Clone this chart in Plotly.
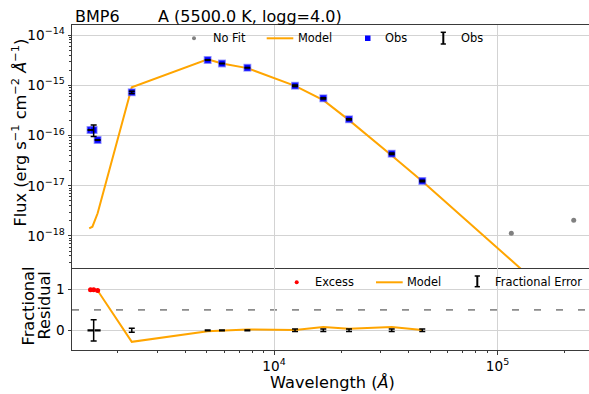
import plotly.graph_objects as go

# ---------------- data ----------------
obs_wl = [1510, 1560, 1625, 2310, 5050, 5850, 7600, 12420, 16620, 21660, 33630, 46070]
obs_flux = [1.285e-16, 1.285e-16, 8.13e-17, 7.24e-16, 3.18e-15, 2.71e-15, 2.23e-15,
            9.79e-16, 5.50e-16, 2.10e-16, 4.34e-17, 1.245e-17]
obs_frac_err = [0.01, 0.26, 0.01, 0.05, 0.01, 0.01, 0.01, 0.03, 0.03, 0.03, 0.03, 0.03]

nofit_wl = [115300, 219300]
nofit_flux = [1.13e-18, 2.05e-18]

model_wl = [1490, 1540, 1625, 2310, 5050, 5850, 7600, 12420, 16620, 21660, 33630, 46070,
            115300, 219300]
model_flux = [1.42e-18, 1.53e-18, 2.83e-18, 9.10e-16, 3.28e-15, 2.71e-15, 2.19e-15,
              9.69e-16, 5.06e-16, 2.02e-16, 3.99e-17, 1.23e-17, 3.28e-19, 2.56e-20]

resid = [0.99, 0.99, 0.97, -0.28, -0.02, 0.0, 0.02, 0.01, 0.08, 0.04, 0.08, 0.01]
excess_wl = [1510, 1560, 1625]
excess_resid = [0.99, 0.99, 0.97]

threshold = 0.5

x_major = [1e4, 1e5]
x_major_text = ["10<sup>4</sup>", "10<sup>5</sup>"]
y_major = [1e-18, 1e-17, 1e-16, 1e-15, 1e-14]
y_major_text = ["10<sup>\u221218</sup>", "10<sup>\u221217</sup>", "10<sup>\u221216</sup>",
                "10<sup>\u221215</sup>", "10<sup>\u221214</sup>"]
res_ticks = [0, 1]

title_left = "BMP6"
title_right = "A (5500.0 K, logg=4.0)"

# ---------------- styling ----------------
FONT = "DejaVu Sans"
ORANGE = "#ffa500"
GRID = "#d3d3d3"
SPINE = "#3a3a3a"
W, H = 589, 394
L, R, T, B = 72, 0, 25, 44
PW, PH = W - L - R, H - T - B
split = (350 - 268) / PH
LABEL = 16.2


def px(x):
    return (x - L) / PW


def py(y):
    return (H - B - y) / PH


x_minor = [m * 10 ** e for e in range(3, 6) for m in range(2, 10) if m * 10 ** e < 2.6e5]
y_minor = [m * 10.0 ** e for e in range(-19, -13) for m in range(2, 10)]

fig = go.Figure()

# top panel
fig.add_trace(go.Scatter(x=nofit_wl, y=nofit_flux, mode="markers",
                         marker=dict(color="#808080", size=5), xaxis="x", yaxis="y"))
fig.add_trace(go.Scatter(x=model_wl, y=model_flux, mode="lines",
                         line=dict(color=ORANGE, width=2), xaxis="x", yaxis="y"))
fig.add_trace(go.Scatter(x=obs_wl, y=obs_flux, mode="markers",
                         marker=dict(color="#0000ff", size=6.5, symbol="square",
                                     line=dict(color="rgba(90,90,255,0.55)", width=1.5)),
                         xaxis="x", yaxis="y"))
fig.add_trace(go.Scatter(x=obs_wl, y=obs_flux, mode="markers",
                         marker=dict(color="rgba(0,0,0,0)", size=1),
                         error_y=dict(type="data", array=[f * e for f, e in zip(obs_flux, obs_frac_err)],
                                      color="black", thickness=1.5, width=3),
                         xaxis="x", yaxis="y"))

# bottom panel
fig.add_trace(go.Scatter(x=obs_wl, y=resid, mode="lines",
                         line=dict(color=ORANGE, width=2), xaxis="x2", yaxis="y2"))
fig.add_trace(go.Scatter(x=obs_wl, y=[0] * len(obs_wl), mode="markers",
                         marker=dict(color="rgba(0,0,0,0)", size=1),
                         error_y=dict(type="data", array=obs_frac_err,
                                      color="black", thickness=1.5, width=3),
                         xaxis="x2", yaxis="y2"))
fig.add_trace(go.Scatter(x=excess_wl, y=excess_resid, mode="markers",
                         marker=dict(color="red", size=5), xaxis="x2", yaxis="y2"))

fig.add_shape(type="line", xref="x2 domain", x0=0, x1=1, yref="y2", y0=threshold, y1=threshold,
              line=dict(color="#8c8c8c", width=1.8, dash="7px,15px"), layer="below")

axis_common = dict(showline=True, linecolor=SPINE, linewidth=1, gridcolor=GRID, gridwidth=1,
                   tickfont=dict(family=FONT, size=13.6, color="black"), ticklen=3.5,
                   tickcolor=SPINE, zeroline=False)
xr = [3.0962, 5.4094]
fig.update_layout(
    width=W, height=H, margin=dict(l=L, r=R, t=T, b=B),
    plot_bgcolor="white", paper_bgcolor="white", showlegend=False,
    font=dict(family=FONT, size=13.6, color="black"),
    xaxis=dict(type="log", range=xr, domain=[0, 1], anchor="y", matches="x2",
               tickmode="array", tickvals=x_major, showticklabels=False, ticks="",
               mirror=True, showgrid=True, **axis_common),
    xaxis2=dict(type="log", range=xr, domain=[0, 1], anchor="y2",
                tickmode="array", tickvals=x_major, ticktext=x_major_text, ticks="outside",
                minor=dict(tickmode="array", tickvals=x_minor, ticks="outside", ticklen=2,
                           tickcolor=SPINE, showgrid=False),
                showgrid=True, **axis_common),
    yaxis=dict(type="log", range=[-18.637, -13.801], domain=[split, 1], anchor="x",
               tickmode="array", tickvals=y_major, ticktext=y_major_text, ticks="outside",
               minor=dict(tickmode="array", tickvals=y_minor, ticks="outside", ticklen=2,
                          tickcolor=SPINE, showgrid=False),
               showgrid=True, **axis_common),
    yaxis2=dict(range=[-0.48, 1.52], domain=[0, split], anchor="x2",
                tickmode="array", tickvals=res_ticks, ticktext=[str(v) for v in res_ticks],
                ticks="outside", showgrid=True, **axis_common),
)

ann = []
# titles
ann.append(dict(x=px(73), y=py(16), xref="paper", yref="paper", text=title_left,
                xanchor="left", yanchor="middle", showarrow=False, font=dict(size=16)))
ann.append(dict(x=px(156), y=py(16), xref="paper", yref="paper", text=title_right,
                xanchor="left", yanchor="middle", showarrow=False, font=dict(size=16)))
# axis titles
ann.append(dict(x=px(332.5), y=py(382), xref="paper", yref="paper",
                text="Wavelength (<i>\u00c5</i>)", xanchor="center", yanchor="middle",
                showarrow=False, font=dict(size=LABEL)))
ann.append(dict(x=px(19.5), y=py(133), xref="paper", yref="paper",
                text="Flux (erg s<sup>\u22121</sup> cm<sup>\u22122</sup> <i>\u00c5</i><sup>\u22121</sup>)",
                textangle=-90, xanchor="center", yanchor="middle", showarrow=False,
                font=dict(size=LABEL)))
for xx, word in [(27.5, "Fractional"), (43.5, "Residual")]:
    ann.append(dict(x=px(xx), y=py(306), xref="paper", yref="paper",
                    text=word, textangle=-90, xanchor="center",
                    yanchor="middle", showarrow=False, font=dict(size=LABEL)))

# manual legends
LEG = 11.4
for x, y, t in [(210.7, 38.5, "No Fit"), (296, 38.5, "Model"), (383.3, 38.5, "Obs"),
                (459, 38.5, "Obs"), (312.7, 282.3, "Excess"), (405, 282.3, "Model"),
                (492.7, 282.3, "Fractional Error")]:
    ann.append(dict(x=px(x), y=py(y), xref="paper", yref="paper", text=t, xanchor="left",
                    yanchor="middle", showarrow=False, font=dict(size=LEG)))
fig.update_layout(annotations=ann)

shapes = []
# dots
for cx, cy, col, r in [(194, 38.3, "#808080", 2.0), (296.7, 282.3, "red", 2.0)]:
    shapes.append(dict(type="circle", xref="paper", yref="paper", x0=px(cx - r), x1=px(cx + r),
                       y0=py(cy + r), y1=py(cy - r), fillcolor=col, line=dict(width=0)))
# lines
for x0, x1, yy in [(266.7, 293.3, 38.3), (376, 402.7, 282.3)]:
    shapes.append(dict(type="line", xref="paper", yref="paper", x0=px(x0), x1=px(x1),
                       y0=py(yy), y1=py(yy), line=dict(color=ORANGE, width=2)))
# square
shapes.append(dict(type="rect", xref="paper", yref="paper", x0=px(365), x1=px(370.5),
                   y0=py(41), y1=py(35.5), fillcolor="#0000ff", line=dict(width=0)))
# error-bar glyphs
for cx, y0, y1 in [(443.3, 32.3, 44.0), (477.3, 276.0, 286.7)]:
    shapes.append(dict(type="line", xref="paper", yref="paper", x0=px(cx), x1=px(cx),
                       y0=py(y0), y1=py(y1), line=dict(color="black", width=2)))
    for yy in (y0, y1):
        shapes.append(dict(type="line", xref="paper", yref="paper", x0=px(cx - 2.6),
                           x1=px(cx + 2.6), y0=py(yy), y1=py(yy),
                           line=dict(color="black", width=1.5)))
for s in shapes:
    fig.add_shape(**s)

fig.write_html("out.html")
